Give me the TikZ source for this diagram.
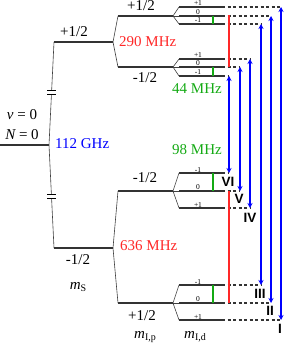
\documentclass[tikz,border=0pt]{standalone}
\usepackage{fontspec}
\setmainfont{Liberation Serif}
\newfontfamily\romfont{Liberation Sans}
\usetikzlibrary{arrows.meta}
\definecolor{myred}{RGB}{255,40,40}
\definecolor{mygreen}{RGB}{20,170,20}
\definecolor{myblue}{RGB}{0,0,255}
\begin{document}
\begin{tikzpicture}[x=1pt,y=-1pt,
  lvl/.style={line width=1.1pt, draw=black!80},
  spl/.style={line width=0.6pt, draw=black!75},
  dsh/.style={line width=1.1pt, draw=black!80, dash pattern=on 3pt off 2.5pt},
  arr/.style={draw=myblue, line width=1.6pt, {Stealth[length=5pt,width=5pt]}-{Stealth[length=5pt,width=5pt]}},
  big/.style={font=\fontsize{15}{17}\selectfont, inner sep=0pt},
  tiny/.style={font=\fontsize{7.5}{8}\selectfont, inner sep=0pt},
  rom/.style={font=\romfont\bfseries\fontsize{13.5}{16}\selectfont, inner sep=0pt},
  grn/.style={draw=mygreen, line width=1.4pt},
  rdl/.style={draw=myred, line width=2pt}]
\useasboundingbox (0,0) rectangle (285,347);
% level 0
\coordinate (L0a) at (0,145); \coordinate (L0b) at (49,145);
\draw[lvl] (L0a) -- (L0b);
% ms levels
\coordinate (Pa) at (54,42); \coordinate (Pb) at (113,42);
\coordinate (Ma) at (54,248); \coordinate (Mb) at (113,248);
\draw[spl] (L0b) -- (Pa);
\draw[spl] (L0b) -- (Ma);
\draw[lvl] (Pa) -- (Pb);
\draw[lvl] (Ma) -- (Mb);
% break marks
\fill[white] (48,91) rectangle (56,94);
\fill[white] (48,195) rectangle (56,198);
\draw[line width=0.6pt] (47,90.5) -- (56,90.5) (47,94.5) -- (56,94.5);
\draw[line width=0.6pt] (47,194.5) -- (56,194.5) (47,198.5) -- (56,198.5);
% mI,p levels
\foreach \n/\s/\y in {A/Pb/16, B/Pb/67, C/Mb/191, D/Mb/303}{
  \coordinate (\n a) at (118,\y); \coordinate (\n b) at (173,\y);
  \draw[spl] (\s) -- (\n a);
  \draw[lvl] (\n a) -- (\n b);
}
% mI,d sublevels: name/parent/y/label/dash end
\foreach \n/\p/\y/\t/\e in {
  A1/A/7/+1/281, A2/A/16/0/271, A3/A/24/-1/261,
  B1/B/59/+1/250, B2/B/67/0/240, B3/B/76/-1/229,
  C1/C/173/-1/229, C2/C/191/0/240, C3/C/208/+1/250,
  D1/D/285/-1/261, D2/D/303/0/271, D3/D/320/+1/281}{
  \coordinate (\n s) at (179,\y); \coordinate (\n e) at (222,\y);
  \coordinate (\n x) at (\e,\y);
  \coordinate (\n g) at (213,\y);
  \draw[spl] (\p b) -- (\n s);
  \draw[lvl] (\n s) -- (\n e);
  \draw[dsh] (\n e) -- (\n x);
  \node[tiny, anchor=south] (\n l) at (198,\y-0.8) {\t};
}
% green lines
\draw[grn] (A2g) -- (A3g);
\draw[grn] (B2g) -- (B3g);
\draw[grn] (C1g) -- (C2g);
\draw[grn] (D1g) -- (D2g);
% red lines
\coordinate (r1) at (228.5,15); \coordinate (r2) at (228.5,67);
\coordinate (r3) at (228.5,191); \coordinate (r4) at (228.5,303);
\draw[rdl] (r1) -- (r2);
\draw[rdl] (r3) -- (r4);
% blue arrows
\draw[arr] (B3x) -- (C1x);
\draw[arr] (B2x) -- (C2x);
\draw[arr] (B1x) -- (C3x);
\draw[arr] (A3x) -- (D1x);
\draw[arr] (A2x) -- (D2x);
\draw[arr] (A1x) -- (D3x);
% roman labels
\node[rom] (n6) at (228,182) {VI};
\node[rom] (n5) at (239,199) {V};
\node[rom] (n4) at (250,218) {IV};
\node[rom] (n3) at (260,294) {III};
\node[rom] (n2) at (270,311) {II};
\node[rom] (n1) at (280,329) {I};
% texts
\node[big] (nu) at (22,115) {{\itshape ν} = 0};
\node[big] (N) at (22,135) {{\itshape N} = 0};
\node[big, text=myblue, anchor=west] (f1) at (55,144) {112 GHz};
\node[big] (p1) at (74,32) {+1/2};
\node[big] (m1) at (78,260) {-1/2};
\node[big, text=myred, anchor=west] (f2) at (119,42) {290 MHz};
\node[big, text=myred, anchor=west] (f3) at (120,246) {636 MHz};
\node[big] (p2) at (141,6) {+1/2};
\node[big] (m2) at (145,78) {-1/2};
\node[big] (m3) at (145,178) {-1/2};
\node[big] (p3) at (142,316) {+1/2};
\node[big, text=mygreen] (f4) at (197,89) {44 MHz};
\node[big, text=mygreen] (f5) at (197,150) {98 MHz};
\node[big] (ms) at (78,287) {{\itshape m}\raisebox{-0.35ex}{\fontsize{10}{10}\selectfont S}};
\node[big] (mip) at (145,337) {{\itshape m}\raisebox{-0.35ex}{\fontsize{10}{10}\selectfont I,p}};
\node[big] (mid) at (195,337) {{\itshape m}\raisebox{-0.35ex}{\fontsize{10}{10}\selectfont I,d}};
\end{tikzpicture}
\end{document}
